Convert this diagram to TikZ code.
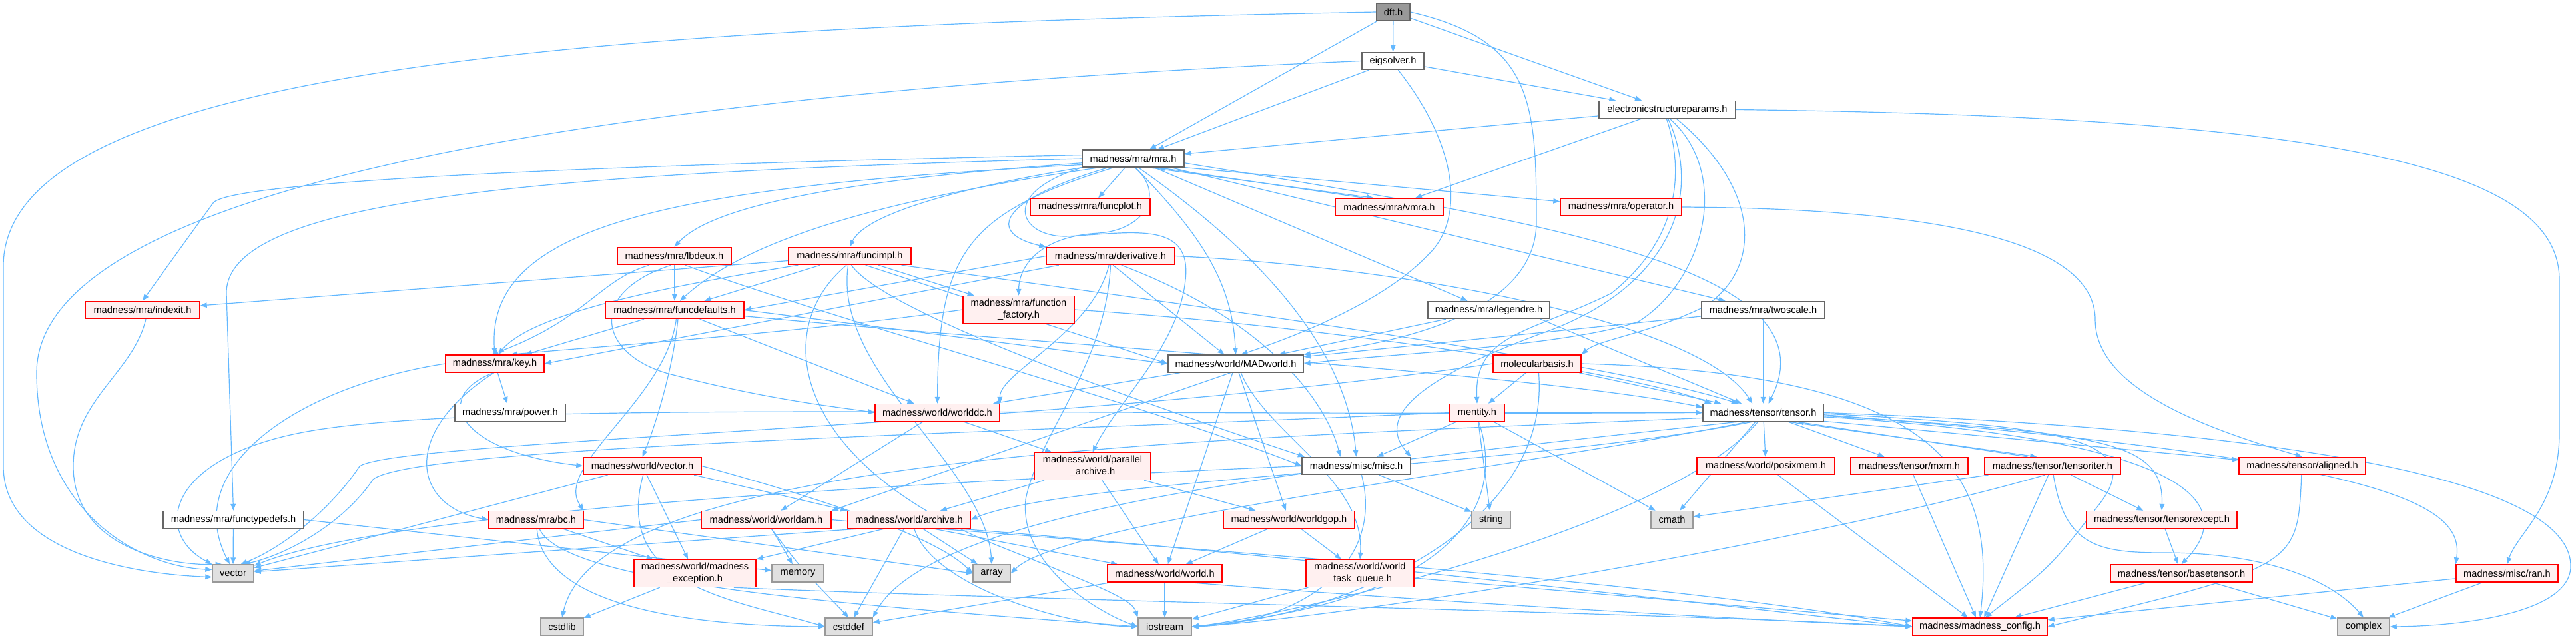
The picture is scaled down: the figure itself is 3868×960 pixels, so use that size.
\documentclass[tikz,border=0pt]{standalone}
\usepackage{fontspec}
\setmainfont{Liberation Sans}
\usetikzlibrary{arrows.meta}
\definecolor{edgec}{HTML}{63B8FF}
\definecolor{redfill}{HTML}{FFF0F0}
\definecolor{extfill}{HTML}{E0E0E0}
\definecolor{extdraw}{HTML}{999999}
\definecolor{grdraw}{HTML}{666666}
\definecolor{rootfill}{HTML}{999999}
\pgfdeclarelayer{bg}
\pgfsetlayers{bg,main}
\begin{document}
\begin{tikzpicture}[x=0.5pt,y=-0.5pt,
 box/.style={rectangle, inner sep=0pt, minimum height=13pt, align=center, font=\fontsize{7.3pt}{9pt}\selectfont, line width=0.7pt},
 rn/.style={box, draw=red, fill=redfill},
 wn/.style={box, draw=grdraw, fill=white},
 gn/.style={box, draw=extdraw, fill=extfill},
 rootn/.style={box, draw=grdraw, fill=rootfill},
 bw/.style={minimum width=#1},
 tall/.style={minimum height=20.5pt},
 e/.style={draw=edgec, line width=0.6pt, -{Triangle[length=5pt,width=3.8pt]}},
]
\useasboundingbox (0,0) rectangle (3868,960);
% nodes
\node[rootn, bw=25pt] (dft) at (2092,18) {dft.h};
\node[wn, bw=46.5pt] (eig) at (2091.5,91.5) {eigsolver.h};
\node[wn, bw=102.5pt] (esp) at (2503.5,164.5) {electronicstructureparams.h};
\node[wn, bw=76.5pt] (mra) at (1701.5,238) {madness/mra/mra.h};
\node[rn, bw=90pt] (funcplot) at (1637,311) {madness/mra/funcplot.h};
\node[rn, bw=81pt] (vmra) at (2086,311) {madness/mra/vmra.h};
\node[rn, bw=91pt] (oper) at (2434,311) {madness/mra/operator.h};
\node[rn, bw=85.5pt] (lbdeux) at (1012.5,384.5) {madness/mra/lbdeux.h};
\node[rn, bw=92pt] (funcimpl) at (1276,384.5) {madness/mra/funcimpl.h};
\node[rn, bw=96.5pt] (deriv) at (1667.5,384.5) {madness/mra/derivative.h};
\node[rn, bw=83.5pt, tall] (ff) at (1529.5,465) {madness/mra/function\\\_factory.h};
\node[rn, bw=86pt] (indexit) at (214,465.5) {madness/mra/indexit.h};
\node[rn, bw=104pt] (fdef) at (1013,465.5) {madness/mra/funcdefaults.h};
\node[wn, bw=91.5pt] (legendre) at (2235.5,465.5) {madness/mra/legendre.h};
\node[wn, bw=92.5pt] (twoscale) at (2647.5,465.5) {madness/mra/twoscale.h};
\node[rn, bw=74pt] (key) at (743,546) {madness/mra/key.h};
\node[wn, bw=101.5pt] (madworld) at (1855.5,546) {madness/world/MADworld.h};
\node[rn, bw=66pt] (molbasis) at (2308,546) {molecularbasis.h};
\node[wn, bw=83pt] (power) at (766,619.5) {madness/mra/power.h};
\node[rn, bw=93.5pt] (worlddc) at (1407.5,619.5) {madness/world/worlddc.h};
\node[rn, bw=41pt] (mentity) at (2218,619.5) {mentity.h};
\node[wn, bw=90.5pt] (tensor) at (2647.5,619.5) {madness/tensor/tensor.h};
\node[rn, bw=87.5pt, tall] (parch) at (1640.5,700) {madness/world/parallel\\\_archive.h};
\node[rn, bw=88.5pt] (wvector) at (964.5,699.5) {madness/world/vector.h};
\node[wn, bw=81.5pt] (misc) at (2036.5,699.5) {madness/misc/misc.h};
\node[rn, bw=103.5pt] (posix) at (2651.5,699.5) {madness/world/posixmem.h};
\node[rn, bw=88pt] (mxm) at (2867,699.5) {madness/tensor/mxm.h};
\node[rn, bw=102pt] (titer) at (3082,699.5) {madness/tensor/tensoriter.h};
\node[rn, bw=95pt] (aligned) at (3457,699.5) {madness/tensor/aligned.h};
\node[wn, bw=105.5pt] (ftd) at (350.5,780.5) {madness/mra/functypedefs.h};
\node[rn, bw=71pt] (bc) at (805,780.5) {madness/mra/bc.h};
\node[rn, bw=97.5pt] (worldam) at (1150.5,780.5) {madness/world/worldam.h};
\node[rn, bw=92pt] (archive) at (1365,780.5) {madness/world/archive.h};
\node[rn, bw=98.5pt] (worldgop) at (1935.5,780.5) {madness/world/worldgop.h};
\node[gn, bw=29pt] (string) at (2239,780.5) {string};
\node[gn, bw=31.5pt] (cmath) at (2510.5,780.5) {cmath};
\node[rn, bw=113pt] (texcept) at (3246,780.5) {madness/tensor/tensorexcept.h};
\node[gn, bw=31pt] (vector) at (350,861) {vector};
\node[rn, bw=91.5pt, tall] (mexc) at (1043.5,861) {madness/world/madness\\\_exception.h};
\node[gn, bw=39pt] (memory) at (1198,861) {memory};
\node[gn, bw=28pt] (array) at (1489,861) {array};
\node[rn, bw=86pt] (world) at (1749,861) {madness/world/world.h};
\node[rn, bw=81pt, tall] (wtq) at (2042,861) {madness/world/world\\\_task\_queue.h};
\node[rn, bw=106.5pt] (btensor) at (3275.5,861) {madness/tensor/basetensor.h};
\node[rn, bw=76.5pt] (ran) at (3764.5,861) {madness/misc/ran.h};
\node[gn, bw=32pt] (cstdlib) at (844,941) {cstdlib};
\node[gn, bw=35.5pt] (cstddef) at (1274.5,941) {cstddef};
\node[gn, bw=40pt] (iostream) at (1749,941) {iostream};
\node[rn, bw=101pt] (mconfig) at (2973,941) {madness/madness\_config.h};
\node[gn, bw=39pt] (complex) at (3549,941) {complex};
% edges
\begin{pgfonlayer}{bg}
% dft
\draw[e] (dft.west) .. controls (900,40) and (5,100) .. (5,400) -- (5,700) .. controls (5,830) and (200,862) .. (vector.190);
\draw[e] (dft) -- (mra);
\draw[e] (dft) -- (eig);
\draw[e] (dft) -- (esp);
\draw[e] (dft.east) .. controls (2300,60) and (2307,150) .. (2307,330) .. controls (2310,470) and (2100,515) .. (madworld.north east);
% eigsolver
\draw[e] (eig.west) .. controls (900,140) and (55,280) .. (55,560) .. controls (55,760) and (200,850) .. (vector.170);
\draw[e] (eig) -- (mra);
\draw[e] (eig) -- (esp);
\draw[e] (eig.300) .. controls (2190,220) and (2200,330) .. (2144,383) .. controls (2080,450) and (1960,500) .. (madworld.60);
% electronicstructureparams
\draw[e] (esp) -- (mra);
\draw[e] (esp) -- (vmra);
\draw[e] (esp.east) .. controls (3500,175) and (3843,250) .. (3843,420) -- (3843,650) .. controls (3843,760) and (3780,800) .. (ran.north);
\draw[e] (esp.285) .. controls (2600,260) and (2560,420) .. (2460,483) .. controls (2350,520) and (2100,530) .. (madworld.east);
\draw[e] (esp.315) .. controls (2640,280) and (2650,400) .. (2560,460) .. controls (2480,500) and (2400,510) .. (molbasis.north east);
\draw[e] (esp.265) .. controls (2530,260) and (2520,360) .. (2420,440) .. controls (2300,500) and (2213,500) .. (mentity.north);
\draw[e] (esp.275) .. controls (2560,300) and (2500,430) .. (2330,495) .. controls (2150,560) and (2060,620) .. (misc.north east);
% mra
\draw[e] (mra) -- (funcplot);
\draw[e] (mra.330) -- (vmra.150);
\draw[e] (vmra.160) -- (mra.340);
\draw[e] (mra.350) -- (oper);
\draw[e] (mra.200) .. controls (1500,300) and (1480,350) .. (deriv.north west);
\draw[e] (mra.190) .. controls (1450,280) and (1300,320) .. (funcimpl.north);
\draw[e] (mra.185) .. controls (1200,275) and (1060,320) .. (lbdeux.north);
\draw[e] (mra.195) .. controls (1250,310) and (1100,380) .. (fdef.60);
\draw[e] (mra.280) .. controls (1750,290) and (1720,345) .. (1650,350) .. controls (1560,355) and (1530,400) .. (ff.north);
\draw[e] (mra.176) .. controls (800,250) and (340,275) .. (320,305) .. controls (280,360) .. (indexit.north);
\draw[e] (mra.180) .. controls (800,260) and (340,300) .. (340,440) -- (ftd.north);
\draw[e] (mra.187) .. controls (1000,280) and (730,340) .. (key.north);
\draw[e] (mra) -- (legendre);
\draw[e] (mra) -- (twoscale);
\draw[e] (mra.285) .. controls (1800,350) and (1850,420) .. (madworld.north);
\draw[e] (mra.205) .. controls (1450,320) and (1409,380) .. (worlddc.north);
\draw[e] (mra.south west) .. controls (1500,290) and (1530,355) .. (1600,355) .. controls (1700,350) and (1790,330) .. (1780,420) .. controls (1770,520) and (1680,600) .. (parch.north);
\draw[e] (mra.300) .. controls (1850,350) and (2020,500) .. (misc.north);
\draw[e] (mra.355) .. controls (2300,330) and (2760,400) .. (tensor.60);
% operator
\draw[e] (oper.east) .. controls (2900,313) and (3146,360) .. (3146,480) .. controls (3146,580) and (3300,640) .. (aligned.north);
% lbdeux
\draw[e] (lbdeux) -- (fdef);
\draw[e] (lbdeux.200) .. controls (900,420) and (880,480) .. (key.110);
\draw[e] (lbdeux.250) .. controls (880,440) and (900,530) .. (1000,560) .. controls (1150,600) and (1250,610) .. (worlddc.west);
\draw[e] (lbdeux.320) .. controls (1250,480) and (1700,600) .. (misc.west);
% funcimpl
\draw[e] (funcimpl) -- (indexit);
\draw[e] (funcimpl.190) .. controls (1000,430) and (800,470) .. (key.70);
\draw[e] (funcimpl) -- (fdef);
\draw[e] (funcimpl) -- (ff);
\draw[e] (funcimpl.350) .. controls (1800,460) and (2400,540) .. (tensor.160);
\draw[e] (funcimpl.260) .. controls (1250,560) and (1480,700) .. (array.north);
\draw[e] (funcimpl.280) .. controls (1330,470) and (1700,600) .. (misc.170);
\draw[e] (funcimpl.250) .. controls (1150,500) and (1200,700) .. (1500,820) .. controls (1650,880) and (1700,900) .. (iostream.north west);
\draw[e] (funcimpl.330) -- (madworld.west);
% derivative
\draw[e] (deriv.190) -- (key.east);
\draw[e] (deriv.west) -- (fdef.east);
\draw[e] (deriv.260) .. controls (1640,500) and (1500,560) .. (worlddc.north east);
\draw[e] (deriv.285) -- (madworld);
\draw[e] (deriv.east) .. controls (2100,400) and (2550,480) .. (tensor.140);
\draw[e] (deriv.320) .. controls (1900,480) and (1990,600) .. (misc.150);
\draw[e] (deriv.270) .. controls (1660,550) and (1560,650) .. (1540,750) .. controls (1530,850) and (1650,920) .. (iostream.west);
% function factory
\draw[e] (ff.west) .. controls (1200,500) and (900,520) .. (key.30);
\draw[e] (ff.east) .. controls (2000,490) and (2450,560) .. (tensor.170);
% indexit
\draw[e] (indexit.290) .. controls (200,560) and (110,600) .. (110,700) .. controls (110,820) and (250,850) .. (vector.140);
% funcdefaults
\draw[e] (fdef) -- (key);
\draw[e] (fdef.280) .. controls (1000,600) and (830,700) .. (bc.north east);
\draw[e] (fdef.290) .. controls (1010,560) and (980,650) .. (wvector.north);
\draw[e] (fdef.340) -- (worlddc);
\draw[e] (fdef.east) -- (madworld.west);
\draw[e] (fdef.355) .. controls (1600,520) and (2300,560) .. (tensor.175);
% legendre, twoscale
\draw[e] (legendre) -- (madworld);
\draw[e] (legendre.350) -- (tensor);
\draw[e] (twoscale) -- (madworld);
\draw[e] (twoscale) -- (tensor);
% key
\draw[e] (key.west) .. controls (450,580) and (270,700) .. (vector.110);
\draw[e] (key) -- (power);
\draw[e] (key.260) .. controls (640,600) and (700,680) .. (wvector.west);
\draw[e] (key.265) .. controls (600,650) and (620,760) .. (bc.west);
% MADworld
\draw[e] (madworld) -- (worlddc);
\draw[e] (madworld) -- (world);
\draw[e] (madworld) -- (worldgop);
\draw[e] (madworld.300) .. controls (1900,650) and (2050,720) .. (wtq.north);
\draw[e] (madworld.240) -- (worldam.north east);
% molecularbasis
\draw[e] (molbasis) -- (mentity);
\draw[e] (molbasis) -- (tensor);
\draw[e] (molbasis.west) .. controls (1600,640) and (600,660) .. (540,700) .. controls (500,760) and (430,820) .. (vector.50);
\draw[e] (molbasis.280) .. controls (2330,800) and (2000,930) .. (iostream.east);
\draw[e] (molbasis.east) .. controls (2900,560) and (3000,700) .. (mconfig.north);
% worlddc
\draw[e] (worlddc) -- (parch);
\draw[e] (worlddc) -- (worldam);
% mentity
\draw[e] (mentity) -- (misc);
\draw[e] (mentity) -- (string);
\draw[e] (mentity) -- (cmath);
\draw[e] (mentity.280) .. controls (2260,750) and (2200,900) .. (iostream.east);
\draw[e] (mentity.west) .. controls (1500,650) and (620,670) .. (560,720) .. controls (520,780) and (440,830) .. (vector.40);
\draw[e] (mentity.east) -- (tensor.west);
% tensor
\draw[e] (tensor) -- (posix);
\draw[e] (tensor) -- (mxm);
\draw[e] (tensor.340) -- (titer.150);
\draw[e] (titer.160) -- (tensor.345);
\draw[e] (tensor.352) -- (aligned);
\draw[e] (tensor.357) .. controls (3150,650) and (3250,660) .. (texcept.north);
\draw[e] (tensor.356) .. controls (3300,660) and (3360,760) .. (btensor.north);
\draw[e] (tensor.358) .. controls (3600,690) and (3700,760) .. (ran.north west);
\draw[e] (tensor.east) .. controls (3300,640) and (3860,700) .. (3860,850) .. controls (3860,920) and (3700,940) .. (complex.east);
\draw[e] (tensor.359) .. controls (3100,640) and (3230,660) .. (3150,760) .. controls (3080,850) .. (mconfig.60);
\draw[e] (tensor) -- (cmath);
\draw[e] (tensor.240) .. controls (2500,800) and (1900,930) .. (iostream.east);
\draw[e] (tensor.180) .. controls (1500,625) and (700,600) .. (450,650) .. controls (250,690) and (230,800) .. (vector.north west);
\draw[e] (tensor.185) .. controls (1800,660) and (900,680) .. (cstdlib.north);
\draw[e] (tensor.200) .. controls (2000,700) and (1400,760) .. (cstddef.north east);
\draw[e] (tensor.210) .. controls (2300,700) and (1600,780) .. (array.east);
\draw[e] (tensor.220) .. controls (2300,700) and (1600,720) .. (archive.east);
% parallel archive
\draw[e] (parch) -- (archive);
\draw[e] (parch) -- (world);
\draw[e] (parch) -- (worldgop);
% world/vector.h
\draw[e] (wvector) -- (vector);
\draw[e] (wvector) -- (mexc);
\draw[e] (wvector.350) -- (archive.north west);
\draw[e] (wvector.275) .. controls (920,880) and (1100,900) .. (cstddef.west);
\draw[e] (wvector.east) .. controls (1200,740) and (1400,800) .. (array.west);
% misc
\draw[e] (misc) -- (string);
\draw[e] (misc.300) .. controls (2080,850) and (1950,935) .. (iostream.east);
\draw[e] (misc.west) .. controls (1500,720) and (600,760) .. (vector.20);
% posixmem, mxm
\draw[e] (posix) -- (mconfig);
\draw[e] (mxm) -- (mconfig);
% tensoriter
\draw[e] (titer) -- (cmath);
\draw[e] (titer) -- (mconfig);
\draw[e] (titer) -- (texcept);
\draw[e] (titer.275) .. controls (3100,820) and (3150,830) .. (3250,830) .. controls (3400,830) and (3500,870) .. (complex.north);
\draw[e] (titer.230) .. controls (2700,820) and (2000,930) .. (iostream.east);
% aligned
\draw[e] (aligned.265) .. controls (3450,850) .. (mconfig.east);
% functypedefs
\draw[e] (ftd) -- (vector);
\draw[e] (ftd.east) -- (memory);
% bc
\draw[e] (bc) -- (mexc);
\draw[e] (bc.275) .. controls (815,900) and (1000,940) .. (cstddef.west);
\draw[e] (bc.290) .. controls (850,880) and (1300,910) .. (iostream.west);
\draw[e] (bc.east) -- (array.west);
% worldam
\draw[e] (worldam.west) -- (vector);
\draw[e] (worldam) -- (memory);
\draw[e] (worldam.300) .. controls (1200,850) .. (cstddef.north);
\draw[e] (worldam.east) .. controls (1700,820) and (2500,870) .. (mconfig.west);
% archive
\draw[e] (archive) -- (cstddef);
\draw[e] (archive) -- (array);
\draw[e] (archive.300) .. controls (1400,880) and (1600,940) .. (iostream.west);
\draw[e] (archive.340) -- (world);
\draw[e] (archive.200) -- (mexc.north east);
\draw[e] (archive.190) -- (vector);
\draw[e] (archive.350) .. controls (1900,830) and (2500,900) .. (mconfig.west);
% worldgop
\draw[e] (worldgop) -- (world);
\draw[e] (worldgop) -- (wtq);
% remaining
\draw[e] (texcept) -- (btensor);
\draw[e] (mexc) -- (cstdlib);
\draw[e] (mexc.340) .. controls (1500,900) and (2500,920) .. (mconfig.west);
\draw[e] (world) -- (cstddef);
\draw[e] (world) -- (iostream);
\draw[e] (world.340) .. controls (2100,900) and (2600,930) .. (mconfig.west);
\draw[e] (wtq) -- (iostream);
\draw[e] (wtq) -- (mconfig);
\draw[e] (btensor) -- (mconfig);
\draw[e] (btensor) -- (complex);
\draw[e] (ran) -- (mconfig);
\draw[e] (ran) -- (complex);
\end{pgfonlayer}
\end{tikzpicture}
\end{document}
